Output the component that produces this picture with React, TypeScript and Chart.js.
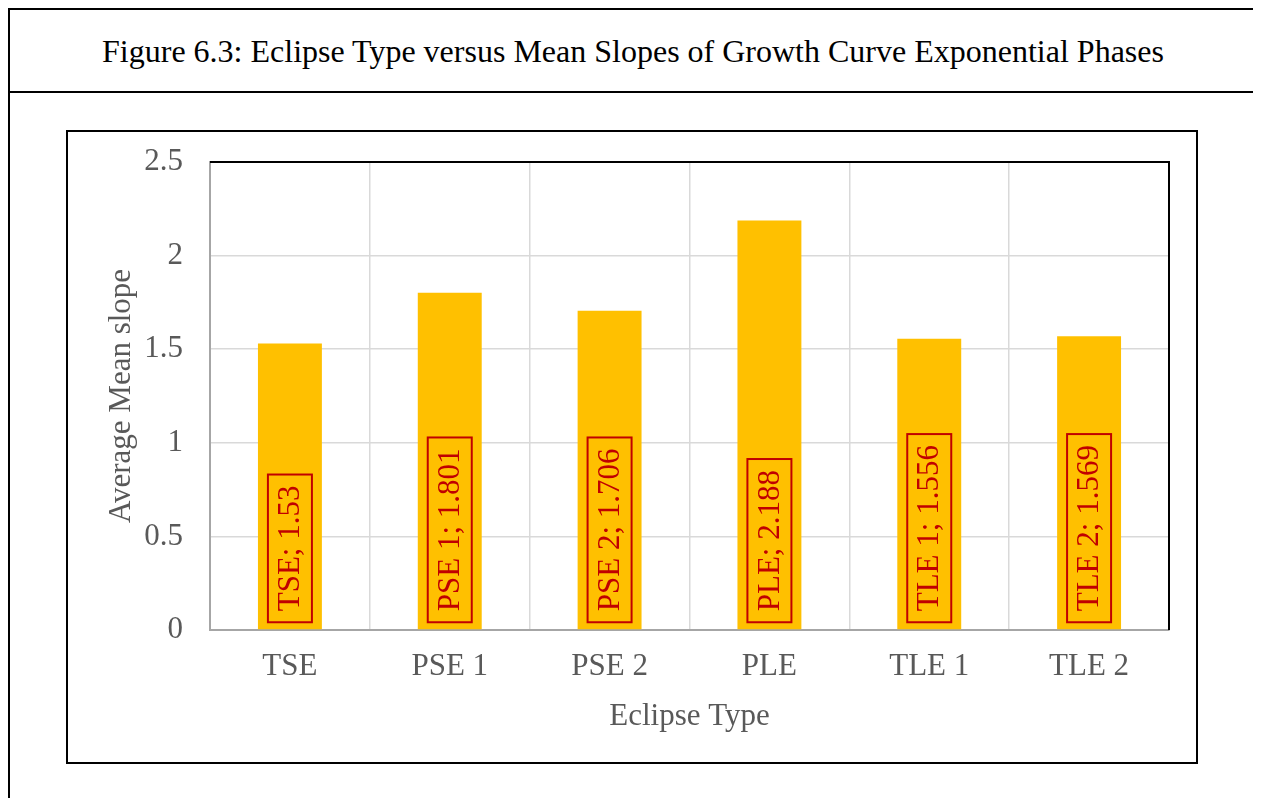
import React, { useEffect, useRef } from "react";
import { Chart, registerables } from "chart.js";

Chart.register(...registerables);

const TITLE = "Figure 6.3: Eclipse Type versus Mean Slopes of Growth Curve Exponential Phases";
const categories = ["TSE", "PSE 1", "PSE 2", "PLE", "TLE 1", "TLE 2"];
const meanSlopes = [1.53, 1.801, 1.706, 2.188, 1.556, 1.569];
const yTicks = [0, 0.5, 1, 1.5, 2, 2.5];
const xTitle = "Eclipse Type";
const yTitle = "Average Mean slope";

const FONT = "'Liberation Serif', 'Times New Roman', serif";
const GRAY_TEXT = "#595959";
const LABEL_RED = "#c00000";

const labelPlugin = {
  id: "boxedLabels",
  afterDatasetsDraw(chart: any) {
    const ctx = chart.ctx;
    const meta = chart.getDatasetMeta(0);
    ctx.save();
    ctx.font = `31px ${FONT}`;
    meta.data.forEach((bar: any, i: number) => {
      const text = `${categories[i]}; ${meanSlopes[i]}`;
      const w = ctx.measureText(text).width;
      const boxH = w + 22;
      const boxW = 44;
      const bottom = bar.base - 7;
      const cx = bar.x;
      ctx.lineWidth = 2;
      ctx.strokeStyle = LABEL_RED;
      ctx.strokeRect(cx - boxW / 2, bottom - boxH, boxW, boxH);
      ctx.save();
      ctx.translate(cx, bottom - boxH / 2);
      ctx.rotate(-Math.PI / 2);
      ctx.fillStyle = LABEL_RED;
      ctx.textAlign = "center";
      ctx.textBaseline = "middle";
      ctx.fillText(text, 0, 1);
      ctx.restore();
    });
    ctx.restore();
  },
};

const framePlugin = {
  id: "plotFrame",
  afterDraw(chart: any) {
    const { ctx, chartArea } = chart;
    const { left, right, top, bottom } = chartArea;
    ctx.save();
    ctx.strokeStyle = "#000000";
    ctx.lineWidth = 2;
    ctx.beginPath();
    ctx.moveTo(left, top);
    ctx.lineTo(right, top);
    ctx.lineTo(right, bottom);
    ctx.stroke();
    ctx.restore();
  },
};

export default function App() {
  const canvasRef = useRef<HTMLCanvasElement>(null);

  useEffect(() => {
    if (!canvasRef.current) return;
    const chart = new Chart(canvasRef.current, {
      type: "bar",
      data: {
        labels: categories,
        datasets: [
          {
            data: meanSlopes,
            backgroundColor: "#ffc000",
            borderWidth: 0,
            categoryPercentage: 1,
            barPercentage: 0.4,
          },
        ],
      },
      options: {
        responsive: false,
        animation: false,
        devicePixelRatio: 1,
        layout: { padding: { left: 0, top: 30, right: 27, bottom: 0 } },
        plugins: {
          legend: { display: false },
          tooltip: { enabled: false },
        },
        scales: {
          x: {
            afterFit(scale: any) {
              scale.height = 132;
              scale.paddingLeft = 0;
              scale.paddingRight = 0;
              scale.paddingTop = 0;
              scale.paddingBottom = 0;
            },
            grid: { color: "#d9d9d9", lineWidth: 1.5, drawTicks: false },
            border: { display: true, color: "#a6a6a6", width: 2 },
            ticks: {
              color: GRAY_TEXT,
              font: { family: FONT, size: 31 },
              padding: 18,
              maxRotation: 0,
            },
            title: {
              display: true,
              text: xTitle,
              color: GRAY_TEXT,
              font: { family: FONT, size: 31 },
              padding: { top: 0, bottom: 27 },
            },
          },
          y: {
            min: 0,
            max: 2.5,
            afterFit(scale: any) {
              scale.width = 142;
              scale.paddingLeft = 0;
              scale.paddingRight = 0;
              scale.paddingTop = 0;
              scale.paddingBottom = 0;
            },
            afterBuildTicks(scale: any) {
              scale.ticks = yTicks.map((v) => ({ value: v }));
            },
            grid: { color: "#d9d9d9", lineWidth: 1.5, drawTicks: false },
            border: { display: true, color: "#a6a6a6", width: 2 },
            ticks: {
              color: GRAY_TEXT,
              font: { family: FONT, size: 31 },
              padding: 27,
              callback: (v: any) => String(v),
            },
            title: {
              display: true,
              text: yTitle,
              color: GRAY_TEXT,
              font: { family: FONT, size: 31 },
              padding: { top: 35, bottom: 0 },
            },
          },
        },
      },
      plugins: [labelPlugin, framePlugin],
    });
    return () => chart.destroy();
  }, []);

  return (
    <div
      style={{
        position: "relative",
        width: 1250,
        height: 800,
        boxSizing: "border-box",
        borderLeft: "2px solid #000",
        borderTop: "2px solid #000",
        borderRight: "2px solid #000",
        fontFamily: FONT,
      }}
    >
      <div
        style={{
          height: 83,
          boxSizing: "border-box",
          borderBottom: "2px solid #000",
          display: "flex",
          alignItems: "center",
          justifyContent: "center",
          fontSize: 32,
          color: "#000",
          paddingTop: 2,
        }}
      >
        {TITLE}
      </div>
      <div
        style={{
          position: "absolute",
          left: 56,
          top: 120,
          width: 1132,
          height: 634,
          boxSizing: "border-box",
          border: "2px solid #000",
          background: "#fff",
        }}
      >
        <canvas ref={canvasRef} width={1128} height={630} style={{ display: "block", width: 1128, height: 630 }} />
      </div>
    </div>
  );
}
